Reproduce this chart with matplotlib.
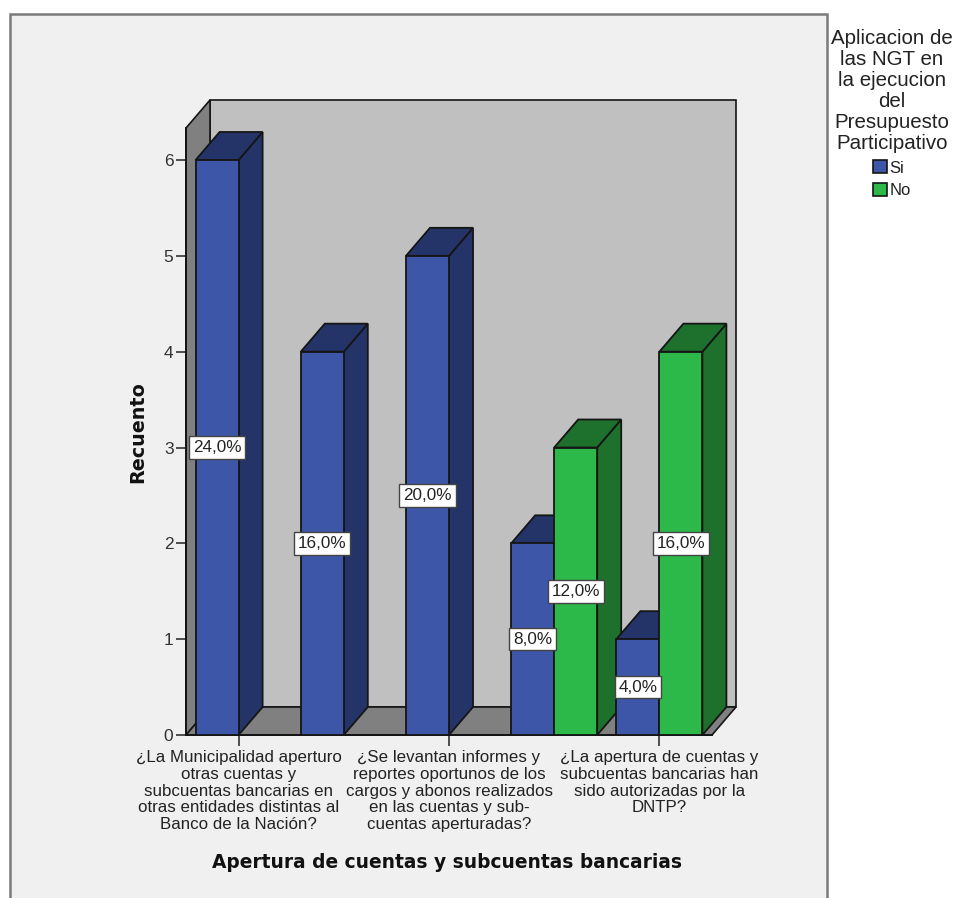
import matplotlib
matplotlib.use("Agg")
import matplotlib.pyplot as plt
from matplotlib.patches import Polygon, Rectangle, Patch

plt.rcParams['font.family'] = ['Liberation Sans', 'DejaVu Sans']

# ---------------- data ----------------
categories = [
    "¿La Municipalidad aperturo\notras cuentas y\nsubcuentas bancarias en\notras entidades distintas al\nBanco de la Nación?",
    "",
    "¿Se levantan informes y\nreportes oportunos de los\ncargos y abonos realizados\nen las cuentas y sub-\ncuentas aperturadas?",
    "",
    "¿La apertura de cuentas y\nsubcuentas bancarias han\nsido autorizadas por la\nDNTP?",
]
si_counts = [6, 4, 5, 2, 1]
no_counts = [0, 0, 0, 3, 4]
series_names = ["Si", "No"]
y_ticks = [0, 1, 2, 3, 4, 5, 6]
x_title = "Apertura de cuentas y subcuentas bancarias"
y_title = "Recuento"
legend_title = "Aplicacion de\nlas NGT en\nla ejecucion\ndel\nPresupuesto\nParticipativo"

# ---------------- style ----------------
W, H = 959, 898
front_cols = ["#3e56a8", "#2db84a"]
dark_cols = ["#243468", "#1e702d"]
edge = "#151515"
wall_back = "#c0c0c0"
wall_side = "#808080"

fig = plt.figure(figsize=(W / 100, H / 100), dpi=100)
fig.patch.set_facecolor("white")

# outer chart frame
fig.add_artist(Rectangle((10 / W, -0.02), (827 - 10) / W, 1 - 14 / H + 0.02,
                         transform=fig.transFigure, facecolor="#f0f0f0",
                         edgecolor="#7a7a7a", lw=1.8, zorder=0))

# front plane axes
x0p, x1p, ybp, ytp = 186, 712, 735, 128
ax = fig.add_axes([x0p / W, 1 - ybp / H, (x1p - x0p) / W, (ybp - ytp) / H])
ax.set_facecolor("none")
n = len(categories)
ax.set_xlim(-0.5, n - 0.5)
px_y = (ybp - 160) / 6.0
ymax = (ybp - ytp) / px_y
ax.set_ylim(0, ymax)
px_x = (x1p - x0p) / n
dx = 24 / px_x
dy = 28 / px_y
bw = 43 / px_x

xl, xr = -0.5, n - 0.5
# back wall, left wall, floor
ax.add_patch(Polygon([(xl + dx, dy), (xr + dx, dy), (xr + dx, ymax + dy), (xl + dx, ymax + dy)],
                     closed=True, fc=wall_back, ec=edge, lw=1.2, clip_on=False, zorder=1))
ax.add_patch(Polygon([(xl, 0), (xl, ymax), (xl + dx, ymax + dy), (xl + dx, dy)],
                     closed=True, fc=wall_side, ec=edge, lw=1.2, clip_on=False, zorder=1))
ax.add_patch(Polygon([(xl, 0), (xr, 0), (xr + dx, dy), (xl + dx, dy)],
                     closed=True, fc=wall_side, ec=edge, lw=1.2, clip_on=False, zorder=1))

total = sum(si_counts) + sum(no_counts)
z = 3
for i in range(n):
    for s, vals in enumerate([si_counts, no_counts]):
        h = vals[i]
        if h <= 0:
            continue
        a = i - bw if s == 0 else i
        b = a + bw
        side = [(b, 0), (b + dx, dy), (b + dx, h + dy), (b, h)]
        top = [(a, h), (b, h), (b + dx, h + dy), (a + dx, h + dy)]
        front = [(a, 0), (b, 0), (b, h), (a, h)]
        for poly, col in [(side, dark_cols[s]), (top, dark_cols[s]), (front, front_cols[s])]:
            ax.add_patch(Polygon(poly, closed=True, fc=col, ec=edge, lw=1.3,
                                 joinstyle="miter", clip_on=False, zorder=z))
            z += 0.01
        pct = f"{100 * h / total:.1f}%".replace(".", ",")
        ax.text((a + b) / 2, h / 2, pct, ha="center", va="center", fontsize=12.3,
                color="#222222", zorder=20,
                bbox=dict(boxstyle="square,pad=0.22", fc="white", ec="#444444", lw=1.0))

# axes / ticks
for sp in ["top", "right"]:
    ax.spines[sp].set_visible(False)
for sp in ["left", "bottom"]:
    ax.spines[sp].set_color(edge)
    ax.spines[sp].set_linewidth(1.4)
    ax.spines[sp].set_zorder(2.5)
ax.set_yticks(y_ticks)
ax.set_yticklabels([str(t) for t in y_ticks])
ax.tick_params(axis="y", length=7.5, width=1.2, color="#333333", labelsize=12.5,
               labelcolor="#333333", pad=1.5)
lab_idx = [i for i, c in enumerate(categories) if c]
ax.set_xticks(lab_idx)
ax.set_xticklabels([categories[i] for i in lab_idx], fontsize=12.2, color="#222222",
                   linespacing=1.14)
ax.tick_params(axis="x", length=8, width=1.2, color="#333333", pad=3)

ax.set_xlabel(x_title, fontsize=13.4, fontweight="bold", family="DejaVu Sans", color="#111111")
ax.xaxis.set_label_coords((447 - x0p) / (x1p - x0p), (ybp - 862) / (ybp - ytp))
ax.xaxis.label.set_va("center")
ax.set_ylabel(y_title, fontsize=13.8, fontweight="bold", family="DejaVu Sans", color="#111111")
ax.yaxis.set_label_coords((138 - x0p) / (x1p - x0p), (ybp - 432) / (ybp - ytp))
ax.yaxis.label.set_va("center")

# legend
handles = [Patch(fc=front_cols[k], ec=edge, lw=1.2) for k in range(2)]
leg = fig.legend(handles, series_names, loc="upper center",
                 bbox_to_anchor=(892 / W, 1 - 17 / H), frameon=False,
                 title=legend_title, title_fontsize=14.8, fontsize=12,
                 alignment="center", handlelength=0.85, handleheight=0.85,
                 handletextpad=0.12, labelspacing=0.42, borderpad=0.2)
leg.get_title().set_linespacing(1.14)
leg.get_title().set_multialignment("center")
leg.get_title().set_color("#222222")
for t in leg.get_texts():
    t.set_color("#222222")

fig.savefig("out.png", dpi=100, facecolor="white")
